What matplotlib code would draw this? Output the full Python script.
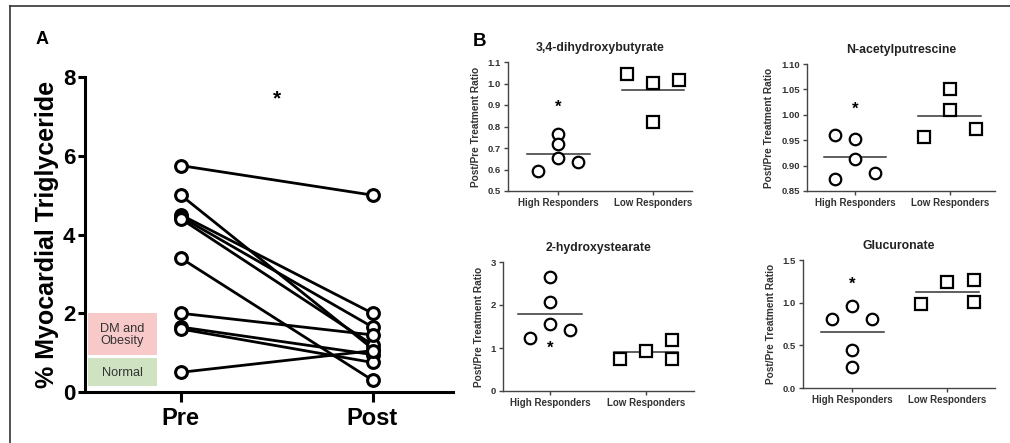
import matplotlib
matplotlib.use("Agg")
import matplotlib.pyplot as plt
from matplotlib.lines import Line2D
from matplotlib.patches import Rectangle

plt.rcParams['font.family'] = ['Liberation Sans', 'DejaVu Sans']
NARROW = ['Liberation Sans Narrow', 'Liberation Sans', 'DejaVu Sans']

# ---------------- Panel A data ----------------
a_groups = ["Pre", "Post"]
a_pre = [5.75, 5.0, 4.50, 4.45, 4.40, 3.40, 2.00, 1.65, 1.60, 0.50]
a_post = [5.0, 1.10, 2.00, 1.65, 1.20, 0.30, 1.45, 0.95, 0.75, 1.05]
a_star = 7.45
a_yticks = [0, 2, 4, 6, 8]
a_legend = ["DM and\nObesity", "Normal"]

# ---------------- Panel B data ----------------
b_groups = ["High Responders", "Low Responders"]
b_titles = ["3,4-dihydroxybutyrate", "N-acetylputrescine", "2-hydroxystearate", "Glucuronate"]
b_high = [
    [0.593, 0.764, 0.718, 0.652, 0.634],
    [0.961, 0.952, 0.913, 0.874, 0.885],
    [2.66, 2.08, 1.56, 1.23, 1.42],
    [0.81, 0.956, 0.81, 0.45, 0.247],
]
b_low = [
    [1.044, 1.002, 1.015, 0.819],
    [0.957, 1.051, 1.010, 0.973],
    [0.75, 0.94, 1.18, 0.75],
    [0.983, 1.238, 1.269, 1.007],
]
# column-scatter slot of each point (-1 left, 0 centre, 1 right)
b_high_slot = [[-1, 0, 0, 0, 1], [-1, 0, 0, -1, 1], [0, 0, 0, -1, 1], [-1, 0, 1, 0, 0]]
b_low_slot = [[-1, 0, 1, 0], [-1, 0, 0, 1], [-1, 0, 1, 1], [-1, 0, 1, 1]]
b_star = [0.889, 1.01, 1.0, 1.21]
b_ylim = [(0.5, 1.1), (0.85, 1.10), (0, 3), (0, 1.5)]
b_yticks = [
    [0.5, 0.6, 0.7, 0.8, 0.9, 1.0, 1.1],
    [0.85, 0.90, 0.95, 1.00, 1.05, 1.10],
    [0, 1, 2, 3],
    [0.0, 0.5, 1.0, 1.5],
]
b_yfmt = ["{:.1f}", "{:.2f}", "{:.0f}", "{:.1f}"]

W, H = 1010, 443
fig = plt.figure(figsize=(W / 100, H / 100), dpi=100)

def px_rect(l, r, t, b):
    return [l / W, (H - b) / H, (r - l) / W, (b - t) / H]

# outer frame (left and top edges visible)
fig.add_artist(Line2D([10 / W, 10 / W], [0, 1 - 6 / H], color='#333333', lw=1.2))
fig.add_artist(Line2D([10 / W, 1], [1 - 6 / H, 1 - 6 / H], color='#333333', lw=1.2))

# ---------------- Panel A ----------------
axA = fig.add_axes(px_rect(85, 453, 77, 392))
for i in range(len(a_pre)):
    axA.plot([0, 1], [a_pre[i], a_post[i]], color='black', lw=2.0,
             marker='o', ms=8.5, mfc='white', mec='black', mew=2.2, zorder=3,
             clip_on=False)
axA.set_xlim(-0.5, 1.42)
axA.set_ylim(0, 8)
axA.set_xticks([0, 1])
axA.set_xticklabels(a_groups, family=NARROW, fontsize=17, fontweight='bold')
axA.set_yticks(a_yticks)
axA.set_yticklabels([str(v) for v in a_yticks], family=NARROW, fontsize=16, fontweight='bold')
for s in ['top', 'right']:
    axA.spines[s].set_visible(False)
for s in ['left', 'bottom']:
    axA.spines[s].set_linewidth(2.2)
axA.tick_params(axis='y', width=2.2, length=5, pad=2)
axA.tick_params(axis='x', width=2.2, length=7, pad=4)
axA.set_ylabel("% Myocardial Triglyceride", family=NARROW, fontsize=18,
               fontweight='bold', labelpad=3)
axA.text(0.5, a_star, "*", ha='center', va='center', fontsize=15, fontweight='bold')

# legend boxes in pixel coordinates
fig.add_artist(Rectangle((88 / W, (H - 355) / H), 69 / W, 42 / H,
                         facecolor='#f8c9c9', edgecolor='none', zorder=5))
fig.add_artist(Rectangle((88 / W, (H - 386) / H), 69 / W, 28 / H,
                         facecolor='#cfe3c3', edgecolor='none', zorder=5))
fig.text(122.5 / W, 1 - 335 / H, a_legend[0], ha='center', va='center',
         fontsize=9.2, color='#333333', linespacing=1.0, zorder=6)
fig.text(122.5 / W, 1 - 373 / H, a_legend[1], ha='center', va='center',
         fontsize=9.2, color='#333333', zorder=6)

fig.text(42 / W, 1 - 40 / H, "A", fontsize=13, fontweight='bold', ha='center', va='center')
fig.text(479 / W, 1 - 42 / H, "B", fontsize=13.5, fontweight='bold', ha='center', va='center')

# ---------------- Panel B ----------------
rects = [px_rect(508, 692, 62, 191), px_rect(807, 995, 64, 191),
         px_rect(503, 694, 262, 391), px_rect(803, 995, 260, 388)]
xlims = [(-0.53, 1.41), (-0.51, 1.48), (-0.49, 1.5), (-0.52, 1.5)]
HS, LS = 0.21, 0.275
for k in range(4):
    ax = fig.add_axes(rects[k])
    hx = [0 + s * HS for s in b_high_slot[k]]
    lx = [1 + s * LS for s in b_low_slot[k]]
    ax.plot(hx, b_high[k], ls='none', marker='o', ms=8.3, mfc='white',
            mec='black', mew=1.6, clip_on=False, zorder=3)
    ax.plot(lx, b_low[k], ls='none', marker='s', ms=8.0, mfc='white',
            mec='black', mew=1.6, clip_on=False, zorder=3)
    hm = sum(b_high[k]) / len(b_high[k])
    lm = sum(b_low[k]) / len(b_low[k])
    ax.plot([-0.33, 0.33], [hm, hm], color='#333333', lw=1.1, zorder=2)
    ax.plot([1 - 0.33, 1 + 0.33], [lm, lm], color='#333333', lw=1.1, zorder=2)
    ax.text(0, b_star[k], "*", ha='center', va='center', fontsize=12, fontweight='bold')
    ax.set_xlim(*xlims[k])
    ax.set_ylim(*b_ylim[k])
    ax.set_yticks(b_yticks[k])
    ax.set_yticklabels([b_yfmt[k].format(v) for v in b_yticks[k]],
                       fontsize=6.8, fontweight='bold', color='#333333')
    ax.set_xticks([0, 1])
    ax.set_xticklabels(b_groups, fontsize=7, fontweight='bold', color='#333333')
    for s in ['top', 'right']:
        ax.spines[s].set_visible(False)
    for s in ['left', 'bottom']:
        ax.spines[s].set_linewidth(1.0)
        ax.spines[s].set_color('#444444')
    ax.tick_params(width=1.0, length=3, pad=2, color='#444444')
    ax.set_title(b_titles[k], fontsize=8.8, fontweight='bold', pad=8, color='#222222')
    ax.set_ylabel("Post/Pre Treatment Ratio", fontsize=7.3, fontweight='bold',
                  color='#333333', labelpad=5)

fig.savefig("out.png", dpi=100)
